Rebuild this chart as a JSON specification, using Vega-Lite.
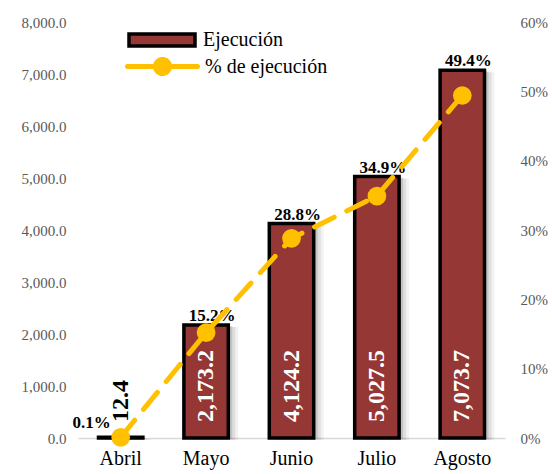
{
  "$schema": "https://vega.github.io/schema/vega-lite/v6.json",
  "width": 427,
  "height": 416,
  "autosize": {"type": "none"},
  "padding": {"left": 78, "top": 22, "right": 47, "bottom": 36},
  "background": "white",
  "config": {"view": {"stroke": null}, "font": "Liberation Serif"},
  "data": {
    "values": [
      {"mes": "Abril", "ejec": 12.4, "pct": 0.001},
      {"mes": "Mayo", "ejec": 2173.2, "pct": 0.152},
      {"mes": "Junio", "ejec": 4124.2, "pct": 0.288},
      {"mes": "Julio", "ejec": 5027.5, "pct": 0.349},
      {"mes": "Agosto", "ejec": 7073.7, "pct": 0.494}
    ]
  },
  "encoding": {
    "x": {
      "field": "mes",
      "type": "nominal",
      "sort": null,
      "scale": {"paddingInner": 0.48, "paddingOuter": 0.24},
      "axis": {
        "title": null,
        "labelAngle": 0,
        "labelFontSize": 20,
        "labelColor": "black",
        "labelFont": "Liberation Serif",
        "labelFontWeight": "normal",
        "ticks": false,
        "domainColor": "#d9d9d9",
        "domainWidth": 1.5,
        "labelPadding": 10
      }
    }
  },
  "layer": [
    {
      "layer": [
        {
          "mark": {"type": "bar", "fill": "black", "opacity": 0.05, "xOffset": 10, "yOffset": 2},
          "encoding": {
            "y": {
              "field": "ejec",
              "type": "quantitative",
              "scale": {"domain": [0, 8000]},
              "axis": {
                "title": null,
                "values": [0, 1000, 2000, 3000, 4000, 5000, 6000, 7000, 8000],
                "format": ",.1f",
                "labelFontSize": 15,
                "labelFont": "Liberation Serif",
                "labelColor": "#595959",
                "domain": false,
                "ticks": false,
                "grid": false,
                "labelPadding": 12
              }
            }
          }
        },
        {
          "mark": {"type": "bar", "fill": "black", "opacity": 0.08, "xOffset": 7, "yOffset": 2},
          "encoding": {"y": {"field": "ejec", "type": "quantitative"}}
        },
        {
          "mark": {"type": "bar", "fill": "black", "opacity": 0.12, "xOffset": 4, "yOffset": 1},
          "encoding": {"y": {"field": "ejec", "type": "quantitative"}}
        },
        {
          "mark": {"type": "bar", "stroke": "black", "strokeWidth": 3.5},
          "encoding": {
            "y": {"field": "ejec", "type": "quantitative"},
            "fill": {
              "datum": "Ejecución",
              "type": "nominal",
              "scale": {"range": ["#953735"]},
              "legend": {
                "orient": "none",
                "legendX": 49,
                "legendY": -17,
                "title": null,
                "padding": 0,
                "symbolType": "M-1,-0.18H1V0.18H-1Z",
                "symbolSize": 4356,
                "symbolStrokeColor": "black",
                "symbolStrokeWidth": 3.5,
                "symbolOpacity": 1,
                "labelFontSize": 20,
                "labelFont": "Liberation Serif",
                "labelColor": "black",
                "labelOffset": 6
              }
            }
          }
        },
        {
          "transform": [{"filter": "datum.mes !== 'Abril'"}],
          "mark": {"type": "text", "font": "Liberation Serif", "fontSize": 17, "fontWeight": "bold", "baseline": "alphabetic", "dx": 6, "dy": -4, "color": "black"},
          "encoding": {
            "y": {"field": "ejec", "type": "quantitative"},
            "text": {"field": "pct", "type": "quantitative", "format": ".1%"}
          }
        },
        {
          "transform": [{"filter": "datum.mes === 'Abril'"}],
          "mark": {"type": "text", "font": "Liberation Serif", "fontSize": 17, "fontWeight": "bold", "baseline": "alphabetic", "dx": -29, "dy": -10, "color": "black"},
          "encoding": {
            "y": {"datum": 0, "type": "quantitative"},
            "text": {"field": "pct", "type": "quantitative", "format": ".1%"}
          }
        },
        {
          "mark": {"type": "text", "font": "Liberation Serif", "angle": 270, "align": "left", "baseline": "middle", "dx": 16, "fontSize": 24, "fontWeight": "bold"},
          "encoding": {
            "y": {"datum": 0, "type": "quantitative"},
            "text": {"field": "ejec", "type": "quantitative", "format": ",.1f"},
            "color": {"condition": {"test": "datum.ejec < 100", "value": "black"}, "value": "white"}
          }
        }
      ]
    },
    {
      "layer": [
        {
          "mark": {"type": "line", "strokeDash": [22, 14], "strokeWidth": 5, "strokeCap": "round"},
          "encoding": {
            "y": {
              "field": "pct",
              "type": "quantitative",
              "scale": {"domain": [0, 0.6]},
              "axis": {
                "orient": "right",
                "title": null,
                "values": [0, 0.1, 0.2, 0.3, 0.4, 0.5, 0.6],
                "format": ".0%",
                "labelFontSize": 15,
                "labelFont": "Liberation Serif",
                "labelColor": "#595959",
                "domain": false,
                "ticks": false,
                "grid": false,
                "labelPadding": 15
              }
            },
            "stroke": {
              "datum": "% de ejecución",
              "type": "nominal",
              "scale": {"range": ["#FFC000"]},
              "legend": {
                "orient": "none",
                "legendX": 47,
                "legendY": 7,
                "title": null,
                "padding": 0,
                "symbolType": "M-1,0H-0.29M0.29,0H1M-0.2,0A0.2,0.2,0,1,0,0.2,0A0.2,0.2,0,1,0,-0.2,0Z",
                "symbolSize": 4900,
                "symbolStrokeWidth": 5,
                "labelFontSize": 20,
                "labelFont": "Liberation Serif",
                "labelColor": "black",
                "labelOffset": 5,
                "encode": {
                  "symbols": {
                    "update": {
                      "fill": {"value": "#FFC000"},
                      "stroke": {"value": "#FFC000"},
                      "strokeDash": {"value": [1, 0]},
                      "strokeCap": {"value": "round"},
                      "opacity": {"value": 1}
                    }
                  }
                }
              }
            }
          }
        },
        {
          "mark": {"type": "circle", "size": 350, "color": "#FFC000", "opacity": 1},
          "encoding": {"y": {"field": "pct", "type": "quantitative"}}
        }
      ]
    }
  ],
  "resolve": {"scale": {"y": "independent"}}
}
